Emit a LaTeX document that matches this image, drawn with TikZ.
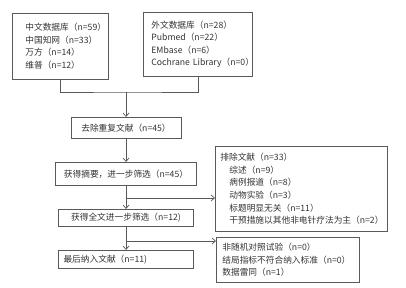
\documentclass[tikz,border=0pt]{standalone}
\usepackage{fontspec}
\setmainfont{Noto Sans CJK SC}
\usetikzlibrary{arrows.meta}
\tikzset{
  stepbox/.style={draw=black!65, line width=0.7pt, text=black!80,
    font=\fontsize{8.7}{12.6}\selectfont, inner ysep=0pt},
  listbox/.style={stepbox, align=left, anchor=north west},
  link/.style={draw=black!65, line width=0.7pt},
}
\begin{document}
\begin{tikzpicture}[x=1pt, y=-1pt, >={Straight Barb[length=3.5pt,width=6pt]}]
\useasboundingbox (0,0) rectangle (406,288);
\node[listbox, inner xsep=13pt, text width=70pt, minimum height=66pt] (cn) at (12,13)
  {中文数据库（n=59）\\中国知网（n=33）\\万方（n=14）\\维普（n=12）};
\node[listbox, inner xsep=8pt, text width=93pt, minimum height=64pt] (en) at (143,12)
  {外文数据库（n=28）\\Pubmed（n=22）\\EMbase（n=6）\\\mbox{Cochrane Library（n=0）}};
\node[stepbox, anchor=north, minimum width=110pt, minimum height=21pt] (dedup) at (126,117) {去除重复文献（n=45）};
\node[stepbox, anchor=north, minimum width=141pt, minimum height=23pt] (abs) at (126,162) {获得摘要，进一步筛选（n=45）};
\node[stepbox, anchor=north, minimum width=135pt, minimum height=17pt] (full) at (126,209) {获得全文进一步筛选（n=12)};
\node[stepbox, anchor=north, align=left, inner xsep=5pt, text width=125pt, minimum height=18pt] (final) at (126,250) {最后纳入文献（n=11)};
\node[listbox, inner xsep=5pt, text width=162pt, minimum height=85pt] (excl) at (215,146)
  {排除文献（n=33）\\\hspace*{9pt}综述（n=9）\\\hspace*{9pt}病例报道（n=8）\\\hspace*{9pt}动物实验（n=3）\\\hspace*{9pt}标题明显无关（n=11）\\\hspace*{9pt}干预措施以其他非电针疗法为主（n=2）};
\node[listbox, inner xsep=6pt, text width=131pt, minimum height=45pt] (drop) at (216,237)
  {非随机对照试验（n=0）\\结局指标不符合纳入标准（n=0）\\数据雷同（n=1）};
\coordinate (j1) at (126,92);
\coordinate (j2) at (126,198);
\coordinate (j3) at (126,241);
\draw[link] (cn.south) |- (j1) -| (en.south);
\draw[link, ->] (j1) -- (dedup.north);
\draw[link, ->] (dedup) -- (abs);
\draw[link, ->] (abs) -- (full);
\draw[link, ->] (j2) -- (j2 -| excl.west);
\draw[link, ->] (full) -- (final);
\draw[link, ->] (j3) -- (j3 -| drop.west);
\end{tikzpicture}
\end{document}
